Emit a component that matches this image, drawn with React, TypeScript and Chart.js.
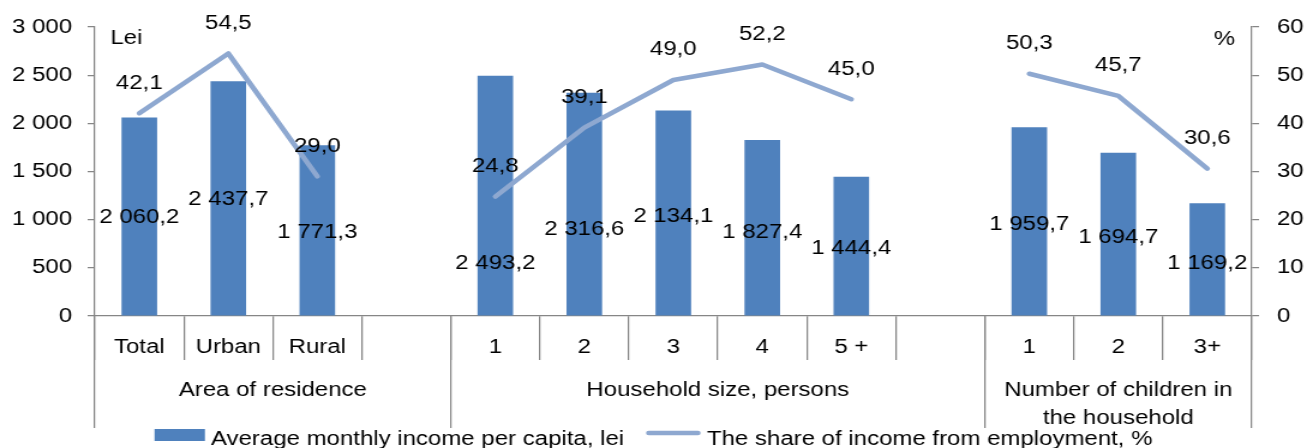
import React, { useEffect, useRef } from 'react';
import { Chart, registerables } from 'chart.js';

Chart.register(...registerables);

// ---- data ----
const categories = ['Total', 'Urban', 'Rural', '', '1', '2', '3', '4', '5 +', '', '1', '2', '3+'];
const incomePerCapita = [2060.2, 2437.7, 1771.3, null, 2493.2, 2316.6, 2134.1, 1827.4, 1444.4, null, 1959.7, 1694.7, 1169.2];
const employmentShare = [42.1, 54.5, 29.0, null, 24.8, 39.1, 49.0, 52.2, 45.0, null, 50.3, 45.7, 30.6];
// vertical anchor (in lei, left axis units) where each bar's value label sits
const incomeLabelAnchor = [1018, 1205, 862, null, 540, 903, 1028, 862, 696, null, 955, 820, 550];
const groupLabels = [['Area of residence'], ['Household size, persons'], ['Number of children in', 'the household']];
const groupSizes = [4, 6, 3];
const seriesNames = ['Average monthly income per capita, lei', 'The share of income from employment, %'];
const leftAxisMax = 3000;
const leftAxisStep = 500;
const rightAxisMax = 60;
const rightAxisStep = 10;
const leftUnit = 'Lei';
const rightUnit = '%';

// ---- styles ----
const CANVAS_W = 1089;
const CANVAS_H = 448;
const FAMILY = '"Liberation Sans", Arial, sans-serif';
const FONT = `20px ${FAMILY}`;
const BAR_COLOR = '#4F81BD';
const LINE_COLOR = '#8EA8D0';
const AXIS_COLOR = '#868686';
const AXIS_W = 1.25;

function fmt(v: number, d: number): string {
  const s = v.toFixed(d);
  const [i, f] = s.split('.');
  const ii = i.replace(/\B(?=(\d{3})+(?!\d))/g, ' ');
  return f ? ii + ',' + f : ii;
}

function align(px: number, w: number) {
  const h = w / 2;
  return Math.round(px - h) + h;
}

const overlayPlugin = {
  id: 'overlay',
  afterDatasetsDraw(chart: any) {
    const ctx = chart.ctx;
    const yScale = chart.scales.y;
    ctx.save();
    ctx.font = FONT;
    ctx.fillStyle = '#000';
    ctx.textAlign = 'center';
    ctx.textBaseline = 'middle';
    const barMeta = chart.getDatasetMeta(0);
    barMeta.data.forEach((el: any, i: number) => {
      const v = incomePerCapita[i];
      const a = incomeLabelAnchor[i];
      if (v == null || a == null) return;
      ctx.fillText(fmt(v, 1), el.x, yScale.getPixelForValue(a));
    });
    const lineMeta = chart.getDatasetMeta(1);
    lineMeta.data.forEach((el: any, i: number) => {
      const v = employmentShare[i];
      if (v == null || !isFinite(el.y)) return;
      ctx.fillText(fmt(v, 1), el.x, el.y - 30);
    });
    ctx.restore();
  },
  afterDraw(chart: any) {
    const ctx = chart.ctx;
    const xs = chart.scales.x;
    const area = chart.chartArea;
    ctx.save();

    // group separators (long ticks) and group labels
    const bounds = [0];
    let acc = 0;
    groupSizes.forEach((n) => {
      acc += n;
      bounds.push(acc);
    });
    const bpx = bounds.map((b) => xs.getPixelForValue(b - 0.5));
    ctx.strokeStyle = AXIS_COLOR;
    ctx.lineWidth = AXIS_W;
    bpx.forEach((px) => {
      const ax = align(px, AXIS_W);
      ctx.beginPath();
      ctx.moveTo(ax, xs.top);
      ctx.lineTo(ax, 428);
      ctx.stroke();
    });
    ctx.font = FONT;
    ctx.fillStyle = '#000';
    ctx.textAlign = 'center';
    ctx.textBaseline = 'middle';
    groupLabels.forEach((lines, gi) => {
      const cx = (bpx[gi] + bpx[gi + 1]) / 2;
      lines.forEach((ln, li) => {
        ctx.fillText(ln, cx, 390 + li * 28);
      });
    });

    // axis units
    ctx.textAlign = 'left';
    ctx.fillText(leftUnit, area.left + 13, 38);
    ctx.textAlign = 'right';
    ctx.fillText(rightUnit, area.right - 14, 39);

    // legend
    ctx.textAlign = 'left';
    ctx.textBaseline = 'alphabetic';
    const t1 = ctx.measureText(seriesNames[0]).width;
    const t2 = ctx.measureText(seriesNames[1]).width;
    const sw1 = 42, sw2 = 46, g = 5, ig = 18;
    const total = sw1 + g + t1 + ig + sw2 + g + t2;
    const x0 = chart.width / 2 - total / 2;
    const baseY = 445;
    ctx.fillStyle = BAR_COLOR;
    ctx.fillRect(x0, 429, sw1, 12);
    ctx.fillStyle = '#000';
    ctx.fillText(seriesNames[0], x0 + sw1 + g, baseY);
    const x1 = x0 + sw1 + g + t1 + ig;
    ctx.strokeStyle = LINE_COLOR;
    ctx.lineWidth = 4.5;
    ctx.lineCap = 'round';
    ctx.beginPath();
    ctx.moveTo(x1 + 2.5, 433);
    ctx.lineTo(x1 + sw2 - 2.5, 433);
    ctx.stroke();
    ctx.fillText(seriesNames[1], x1 + sw2 + g, baseY);

    ctx.restore();
  },
};

export default function App() {
  const ref = useRef<HTMLCanvasElement | null>(null);

  useEffect(() => {
    if (!ref.current) return;
    const tickFont = { family: FAMILY, size: 20 };
    const chart = new Chart(ref.current, {
      type: 'bar',
      data: {
        labels: categories,
        datasets: [
          {
            type: 'bar',
            label: seriesNames[0],
            data: incomePerCapita as any,
            backgroundColor: BAR_COLOR,
            barPercentage: 0.4,
            categoryPercentage: 1.0,
            yAxisID: 'y',
            order: 1,
          },
          {
            type: 'line',
            label: seriesNames[1],
            data: employmentShare as any,
            borderColor: LINE_COLOR,
            backgroundColor: LINE_COLOR,
            borderWidth: 4.5,
            borderCapStyle: 'round',
            borderJoinStyle: 'round',
            pointRadius: 0,
            pointHoverRadius: 0,
            spanGaps: false,
            tension: 0,
            yAxisID: 'y2',
            order: 0,
          } as any,
        ],
      },
      options: {
        responsive: false,
        animation: false,
        devicePixelRatio: 1,
        layout: { padding: { top: 26, bottom: 0, left: 0, right: 0 } },
        plugins: {
          legend: { display: false },
          tooltip: { enabled: false },
        },
        scales: {
          x: {
            type: 'category',
            offset: true,
            grid: {
              display: true,
              offset: true,
              drawOnChartArea: false,
              drawTicks: true,
              tickLength: 44,
              color: AXIS_COLOR,
              lineWidth: AXIS_W,
            },
            border: { display: true, color: AXIS_COLOR, width: AXIS_W },
            ticks: {
              autoSkip: false,
              maxRotation: 0,
              minRotation: 0,
              padding: -25,
              color: '#000',
              font: tickFont,
            },
            afterFit: (s: any) => {
              s.height = 132;
            },
          },
          y: {
            position: 'left',
            min: 0,
            max: leftAxisMax,
            grid: {
              drawOnChartArea: false,
              drawTicks: true,
              tickLength: 6,
              color: AXIS_COLOR,
              lineWidth: AXIS_W,
            },
            border: { display: true, color: AXIS_COLOR, width: AXIS_W },
            ticks: {
              stepSize: leftAxisStep,
              padding: 13,
              color: '#000',
              font: tickFont,
              callback: (v: any) => fmt(Number(v), 0),
            },
            afterFit: (s: any) => {
              s.width = 79;
            },
          },
          y2: {
            position: 'right',
            min: 0,
            max: rightAxisMax,
            grid: {
              drawOnChartArea: false,
              drawTicks: true,
              tickLength: 6,
              color: AXIS_COLOR,
              lineWidth: AXIS_W,
            },
            border: { display: true, color: AXIS_COLOR, width: AXIS_W },
            ticks: {
              stepSize: rightAxisStep,
              padding: 15,
              color: '#000',
              font: tickFont,
              callback: (v: any) => fmt(Number(v), 0),
            },
            afterFit: (s: any) => {
              s.width = 46;
            },
          },
        },
      } as any,
      plugins: [overlayPlugin],
    });
    return () => chart.destroy();
  }, []);

  return (
    <div
      style={{
        position: 'fixed',
        left: 0,
        top: 0,
        width: '1307px',
        height: '448px',
        overflow: 'hidden',
        background: '#fff',
      }}
    >
      <canvas
        ref={ref}
        width={CANVAS_W}
        height={CANVAS_H}
        style={{ width: '1307px', height: '448px', display: 'block' }}
      />
    </div>
  );
}
